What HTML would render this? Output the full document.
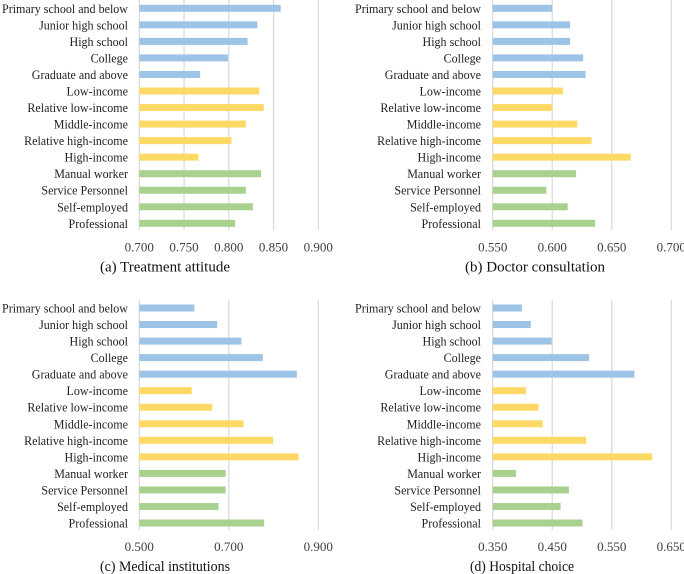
<!DOCTYPE html>
<html><head><meta charset="utf-8">
<style>
body{margin:0;background:#fff;}
svg{display:block;font-family:"Liberation Serif","Times New Roman",serif;}
svg text{font-family:"Liberation Serif","Times New Roman",serif;}
</style></head>
<body>
<svg id="chart" width="684" height="574" viewBox="0 0 684 574" xmlns="http://www.w3.org/2000/svg"></svg>
<script>
const categories = ["Primary school and below","Junior high school","High school","College","Graduate and above","Low-income","Relative low-income","Middle-income","Relative high-income","High-income","Manual worker","Service Personnel","Self-employed","Professional"];
const groupOf = [0,0,0,0,0,1,1,1,1,1,2,2,2,2];
const valuesA = [0.858,0.832,0.821,0.799,0.768,0.834,0.839,0.819,0.803,0.766,0.836,0.819,0.827,0.807];
const valuesB = [0.600,0.615,0.615,0.626,0.628,0.609,0.600,0.621,0.633,0.666,0.620,0.595,0.613,0.636];
const valuesC = [0.623,0.674,0.728,0.776,0.852,0.617,0.663,0.733,0.799,0.856,0.693,0.693,0.677,0.779];
const valuesD = [0.399,0.414,0.449,0.512,0.588,0.406,0.427,0.434,0.507,0.618,0.389,0.478,0.464,0.501];
const ticksA = [0.700,0.750,0.800,0.850,0.900];
const ticksB = [0.550,0.600,0.650,0.700];
const ticksC = [0.500,0.700,0.900];
const ticksD = [0.350,0.450,0.550,0.650];
const titles = ["(a) Treatment attitude","(b) Doctor consultation","(c) Medical institutions","(d) Hospital choice"];
const colors = ["#9dc3e6","#ffd966","#a9d18e"];
const NS="http://www.w3.org/2000/svg";
const FONT='"Liberation Serif", "Times New Roman", serif';
const svg=document.getElementById('chart');
function mk(tag,attrs,parent){const e=document.createElementNS(NS,tag);for(const k in attrs)e.setAttribute(k,attrs[k]);(parent||svg).appendChild(e);return e;}
function fit(t,factor){const w=t.getComputedTextLength();if(w>0&&factor<1){t.setAttribute('textLength',(w*factor).toFixed(1));t.setAttribute('lengthAdjust','spacingAndGlyphs');}}
const panels=[
 {vals:valuesA,ticks:ticksA,x0:139.3,x1:318.3,top:0,y0:8.3,labelX:128,titleX:165,titleW:130,id:'a',title:titles[0]},
 {vals:valuesB,ticks:ticksB,x0:492.7,x1:671.3,top:0,y0:8.3,labelX:481,titleX:535,titleW:140,id:'b',title:titles[1]},
 {vals:valuesC,ticks:ticksC,x0:139.3,x1:318.3,top:300,y0:308,labelX:128,titleX:165,titleW:130,id:'c',title:titles[2]},
 {vals:valuesD,ticks:ticksD,x0:492.7,x1:671.3,top:300,y0:308,labelX:481,titleX:522,titleW:104,id:'d',title:titles[3]}
];
const step=16.54;
let labelFactor=null;
panels.forEach(p=>{
  const g=mk('g',{});
  
  
  const tmin=p.ticks[0],tmax=p.ticks[p.ticks.length-1];
  const sx=v=>p.x0+(v-tmin)/(tmax-tmin)*(p.x1-p.x0);
  const bottom=p.y0+13*step+7;
  p.ticks.forEach((t,i)=>{
    const l=mk('line',{x1:sx(t),x2:sx(t),y1:p.top,y2:bottom,stroke:'#d9d9d9','stroke-width':1.2},g);
    
    
    const tx=mk('text',{x:sx(t),y:bottom+21,'text-anchor':'middle','font-size':13,fill:'#404040','font-family':FONT},g);
    
    
    tx.textContent=t.toFixed(3);
    const tw=tx.getComputedTextLength(); if(tw>32){tx.setAttribute('textLength','32');tx.setAttribute('lengthAdjust','spacingAndGlyphs');}
  });
  categories.forEach((c,i)=>{
    const cy=p.y0+i*step;
    const r=mk('rect',{x:sx(tmin),y:cy-3.5,width:Math.max(0,sx(p.vals[i])-sx(tmin)),height:7,fill:colors[groupOf[i]]},g);
    
    
    const t=mk('text',{x:p.labelX,y:cy+4.5,'text-anchor':'end','font-size':13,fill:'#222','font-family':FONT},g);
    
    
    t.textContent=c;
    if(labelFactor===null){const w=t.getComputedTextLength();labelFactor=w>0?Math.min(1,126/w):1;}
    fit(t,labelFactor);
  });
  const tt=mk('text',{x:p.titleX,y:bottom+41,'text-anchor':'middle','font-size':15,fill:'#111','font-family':FONT},g);
  
  
  tt.textContent=p.title;
  const w=tt.getComputedTextLength(); if(w>p.titleW){tt.setAttribute('textLength',p.titleW);tt.setAttribute('lengthAdjust','spacingAndGlyphs');}
});
</script>
</body></html>
